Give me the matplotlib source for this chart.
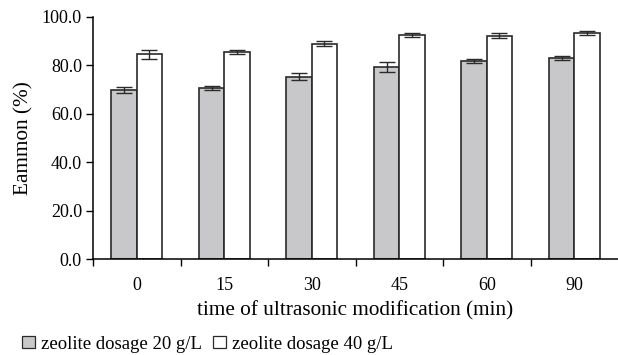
import matplotlib
matplotlib.use("Agg")
import matplotlib.pyplot as plt
from matplotlib.patches import Patch
import numpy as np

# values
times = ["0", "15", "30", "45", "60", "90"]
dose20 = [69.7, 70.6, 75.2, 79.3, 81.8, 82.9]
dose20_err = [1.2, 0.7, 1.4, 2.1, 0.9, 0.7]
dose40 = [84.5, 85.4, 88.9, 92.6, 92.2, 93.2]
dose40_err = [1.9, 0.7, 1.1, 0.8, 1.1, 0.8]
legend_labels = ["zeolite dosage 20 g/L", "zeolite dosage 40 g/L"]

GRAY, EDGE = "#c8c8ca", "#2a2a2a"
plt.rcParams["font.family"] = ["Liberation Serif", "DejaVu Serif"]

fig = plt.figure(figsize=(6.18, 3.55), dpi=100, facecolor="white")
ax = fig.add_axes([0.1505, 0.2704, 0.8495, 0.6825])

x = np.arange(len(times))
w = 0.29
ax.bar(x - w / 2, dose20, w, color=GRAY, edgecolor=EDGE, linewidth=1.2, zorder=2)
ax.bar(x + w / 2, dose40, w, color="white", edgecolor=EDGE, linewidth=1.2, zorder=2)
ax.errorbar(x - w / 2, dose20, yerr=dose20_err, fmt="none", ecolor=EDGE,
            elinewidth=1.0, capsize=5.5, capthick=1.0, zorder=3)
ax.errorbar(x + w / 2, dose40, yerr=dose40_err, fmt="none", ecolor=EDGE,
            elinewidth=1.0, capsize=5.5, capthick=1.0, zorder=3)

ax.set_xlim(-0.5, len(times) - 0.5)
ax.set_ylim(0, 100)
ax.set_yticks(np.arange(0, 101, 20))
ax.set_yticklabels([f"{v:.1f}" for v in range(0, 101, 20)])

# ticks on category boundaries, labels at centres
ax.set_xticks(np.arange(-0.5, len(times) - 0.5, 1.0))
ax.set_xticklabels([])
ax.set_xticks(x, minor=True)
ax.set_xticklabels(times, minor=True)
ax.tick_params(axis="x", which="major", length=5, width=1, direction="out")
ax.tick_params(axis="x", which="minor", length=0, pad=13, labelsize=13)
ax.tick_params(axis="y", length=5, width=1, direction="out", labelsize=13, pad=3)

for s in ["top", "right"]:
    ax.spines[s].set_visible(False)
for s in ["left", "bottom"]:
    ax.spines[s].set_linewidth(1.1)

ax.set_xlabel("time of ultrasonic modification (min)", fontsize=15.3, labelpad=5)
ax.set_ylabel("Eammon (%)", fontsize=15.3, labelpad=6)

handles = [Patch(facecolor=GRAY, edgecolor=EDGE, linewidth=0.9),
           Patch(facecolor="white", edgecolor=EDGE, linewidth=0.9)]
fig.legend(handles, legend_labels, loc="lower left", bbox_to_anchor=(0.015, -0.03),
           ncol=2, frameon=False, fontsize=13.5, handlelength=0.65, handleheight=0.65,
           handletextpad=0.35, columnspacing=0.6, borderaxespad=0.3)

fig.savefig("out.png", dpi=100, facecolor="white")
